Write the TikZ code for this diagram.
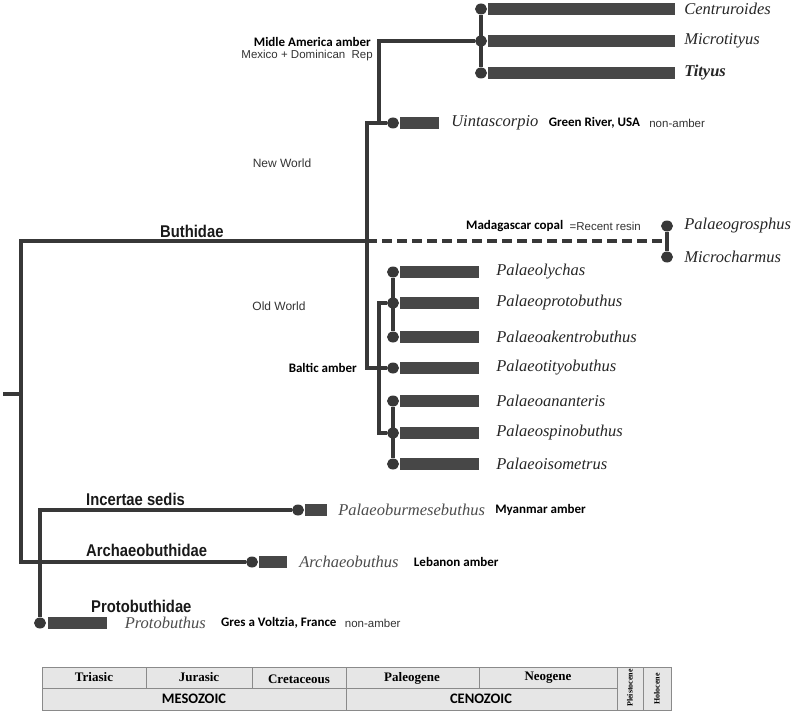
\documentclass[tikz,border=0pt]{standalone}
\usepackage{fontspec}
\setmainfont{Liberation Serif}
\setsansfont{Liberation Sans}
\newfontfamily\calibri{Carlito}
\newfontfamily\narrowsans[FakeStretch=0.87]{Liberation Sans}
\usetikzlibrary{shapes.geometric,positioning}
\definecolor{branchgray}{HTML}{383838}
\definecolor{barfill}{HTML}{474747}
\definecolor{cellfill}{HTML}{E6E6E6}
\definecolor{cellline}{HTML}{8A8A8A}
\tikzset{
    branch/.style={draw=branchgray, line width=4pt},
    copal/.style={branch, dash pattern=on 10pt off 5pt},
    tip/.style={
        ellipse,
        fill=branchgray,
        minimum width=12pt,
        minimum height=11pt,
        inner sep=0pt
    },
    bar/.style={fill=barfill, minimum height=12.7pt, inner sep=0pt},
    taxon/.style={anchor=west, inner sep=0pt, text=black!85, font=\fontsize{16.5}{18}\selectfont\itshape},
    clade/.style={anchor=west, inner sep=0pt, text=black!90, font=\narrowsans\bfseries\fontsize{17}{19}\selectfont},
    site/.style={anchor=west, inner sep=0pt, font=\calibri\bfseries\fontsize{13}{15}\selectfont},
    note/.style={anchor=west, inner sep=0pt, text=black!80, font=\sffamily\fontsize{11.5}{13}\selectfont},
    cell/.style={fill=cellfill, draw=cellline, line width=1pt},
    period/.style={font=\bfseries\fontsize{13}{15}\selectfont},
    era/.style={font=\calibri\bfseries\fontsize{14.5}{16}\selectfont}
}

\begin{document}
\begin{tikzpicture}[x=1pt,y=-1pt]
  \useasboundingbox (0,0) rectangle (792,714);

  % junctions
  \coordinate (stub) at (3,394);
  \coordinate (root) at (21,394);
  \coordinate (bu) at (367,241);
  \coordinate (ow) at (367,368);
  \coordinate (ma) at (379,122);
  \coordinate (bal) at (379,368);
  \coordinate (mg) at (667,241);

  % Middle America
  \node[tip] (tCe) at (481,9) {};
  \node[tip] (tMi) at (481,41) {};
  \node[tip] (tTi) at (481,73) {};
  \node[bar, minimum width=187pt, right=0.5pt of tCe] (bCe) {};
  \node[bar, minimum width=187pt, right=0.5pt of tMi] (bMi) {};
  \node[bar, minimum width=187pt, right=0.5pt of tTi] (bTi) {};
  \node[taxon, right=9pt of bCe] (lCe) {Centruroides};
  \node[taxon, right=9pt of bMi] (lMi) {Microtityus};
  \node[taxon, right=9pt of bTi] (lTi) {\bfseries Tityus};
  \node[site, anchor=east] (sMa) at (371,42) {Midle America amber};
  \node[note, anchor=east] (nMa) at (373,56) {Mexico + Dominican\ \ Rep};

  \node[tip] (tUi) at (393,123) {};
  \node[bar, minimum width=39pt, right=0.5pt of tUi] (bUi) {};
  \node[taxon, right=12pt of bUi] (lUi) {Uintascorpio};
  \node[site, right=10pt of lUi] (sUi) {Green River, USA};
  \node[note, right=9pt of sUi] (nUi) {non-amber};

  \node[note, anchor=center, font=\sffamily\fontsize{12}{14}\selectfont] (nw) at (282,163) {New World};
  \node[clade] (lButh) at (160,231) {Buthidae};

  % Madagascar copal
  \node[tip] (tPg) at (667,226) {};
  \node[tip] (tMc) at (667,257) {};
  \node[taxon, right=11pt of tPg] (lPg) {Palaeogrosphus};
  \node[taxon, right=11pt of tMc] (lMc) {Microcharmus};
  \node[site] (sMg) at (466,226) {Madagascar copal};
  \node[note, right=6pt of sMg] (nMg) {=Recent resin};

  % Baltic amber
  \node[note, anchor=center, font=\sffamily\fontsize{12}{14}\selectfont] (old) at (279,306) {Old World};
  \node[site, anchor=east] (sBa) at (357,368) {Baltic amber};
  \node[tip] (tPl) at (393,272) {};
  \node[tip] (tPp) at (393,303) {};
  \node[tip] (tPa) at (393,337) {};
  \node[tip] (tPt) at (393,368) {};
  \node[tip] (tPn) at (393,401) {};
  \node[tip] (tPs) at (393,433) {};
  \node[tip] (tPi) at (393,464) {};
  \node[bar, minimum width=79pt, right=0.5pt of tPl] (bPl) {};
  \node[bar, minimum width=79pt, right=0.5pt of tPp] (bPp) {};
  \node[bar, minimum width=79pt, right=0.5pt of tPa] (bPa) {};
  \node[bar, minimum width=79pt, right=0.5pt of tPt] (bPt) {};
  \node[bar, minimum width=79pt, right=0.5pt of tPn] (bPn) {};
  \node[bar, minimum width=79pt, right=0.5pt of tPs] (bPs) {};
  \node[bar, minimum width=79pt, right=0.5pt of tPi] (bPi) {};
  \node[taxon, right=17pt of bPl] {Palaeolychas};
  \node[taxon, right=17pt of bPp] {Palaeoprotobuthus};
  \node[taxon, right=17pt of bPa] {Palaeoakentrobuthus};
  \node[taxon, right=17pt of bPt] {Palaeotityobuthus};
  \node[taxon, right=17pt of bPn] {Palaeoananteris};
  \node[taxon, right=17pt of bPs] {Palaeospinobuthus};
  \node[taxon, right=17pt of bPi] {Palaeoisometrus};

  % older lineages
  \node[clade] (lIn) at (86,499) {Incertae sedis};
  \node[tip] (tIn) at (298,510) {};
  \node[bar, minimum width=22pt, right=0.5pt of tIn] (bIn) {};
  \node[taxon, text=black!70, right=11pt of bIn] (lPb) {Palaeoburmesebuthus};
  \node[site, right=10pt of lPb] {Myanmar amber};

  \node[clade] (lAr) at (86,550) {Archaeobuthidae};
  \node[tip] (tAr) at (252,562) {};
  \node[bar, minimum width=28pt, right=0.5pt of tAr] (bAr) {};
  \node[taxon, text=black!70, right=12pt of bAr] (lAb) {Archaeobuthus};
  \node[site, right=15pt of lAb] {Lebanon amber};

  \node[clade] (lPr) at (91,606) {Protobuthidae};
  \node[tip] (tPr) at (40,623) {};
  \node[bar, minimum width=59pt, right=2pt of tPr] (bPr) {};
  \node[taxon, text=black!70, right=17pt of bPr] (lPo) {Protobuthus};
  \node[site, right=15pt of lPo] (sPo) {Gres a Voltzia, France};
  \node[note, right=8pt of sPo] {non-amber};

  % branches
  \draw[branch] (stub) -- (root);
  \draw[branch] (bu) -| (root) |- (tAr);
  \draw[branch] (tIn) -| (tPr);
  \draw[branch] (tUi) -| (ow) -- (tPt);
  \draw[branch] (ma) |- (tMi);
  \draw[branch] (tCe) -- (tTi);
  \draw[branch] (tPp) -| (bal) |- (tPs);
  \draw[branch] (tPl) -- (tPa);
  \draw[branch] (tPn) -- (tPi);
  \draw[copal] (bu) -- (mg);
  \draw[branch] (tPg) -- (tMc);

  % time scale
  \filldraw[cell] (42,667) rectangle (671,710);
  \draw[cellline, line width=1pt] (42,688) -- (617,688);
  \draw[cellline, line width=1pt] (146,667) -- (146,688);
  \draw[cellline, line width=1pt] (252,667) -- (252,688);
  \draw[cellline, line width=1pt] (479,667) -- (479,688);
  \draw[cellline, line width=1pt] (346,667) -- (346,710);
  \draw[cellline, line width=1pt] (617,667) -- (617,710);
  \draw[cellline, line width=1pt] (643,667) -- (643,710);
  \node[period] (pTr) at (94,677) {Triasic};
  \node[period] (pJu) at (199,677) {Jurasic};
  \node[period] (pCr) at (299,679) {Cretaceous};
  \node[period] (pPa) at (412,678) {Paleogene};
  \node[period] (pNe) at (548,678) {Neogene};
  \node[era] (eMe) at (194,699) {MESOZOIC};
  \node[era] (eCe) at (481,699) {CENOZOIC};
  \node[rotate=90, font=\bfseries\fontsize{8}{9}\selectfont] (pPl) at (630,688) {Pleistocene};
  \node[rotate=90, font=\bfseries\fontsize{8}{9}\selectfont] (pHo) at (657,689) {Holocene};

\end{tikzpicture}
\end{document}
